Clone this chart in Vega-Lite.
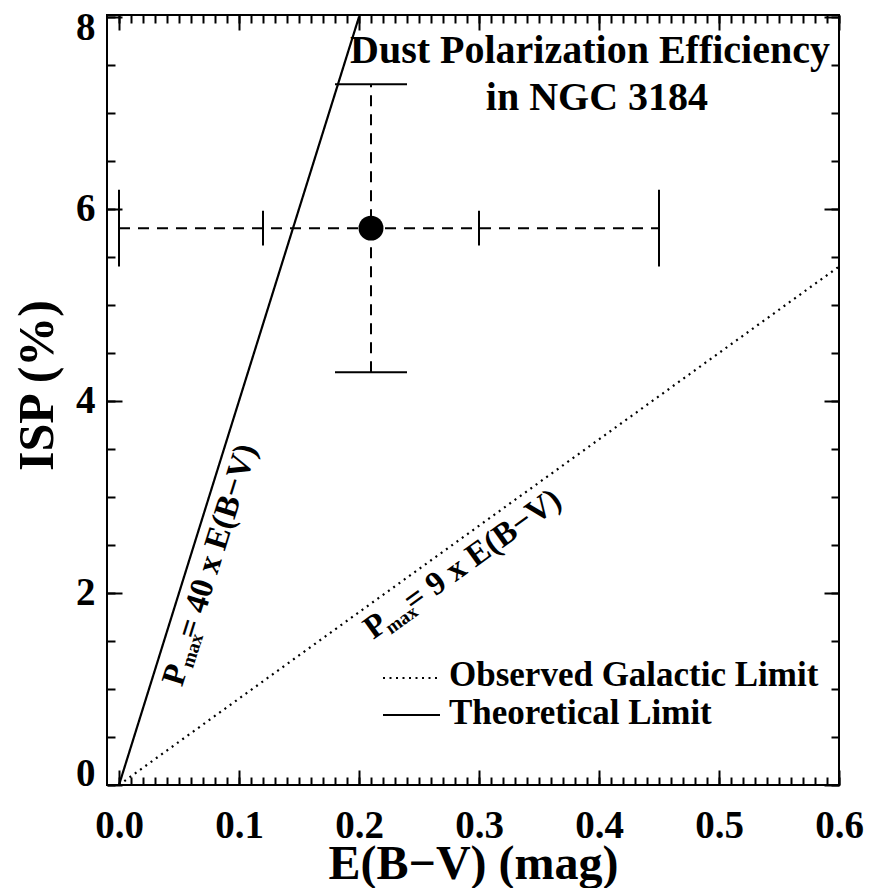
{
  "$schema": "https://vega.github.io/schema/vega-lite/v6.json",
  "width": 732,
  "height": 770,
  "autosize": {"type": "none"},
  "padding": {"left": 107, "top": 15, "right": 32, "bottom": 103},
  "background": "white",
  "config": {
    "view": {"stroke": "black", "strokeWidth": 2},
    "axis": {
      "labelFont": "Liberation Serif", "labelFontWeight": "bold", "labelColor": "black",
      "titleFont": "Liberation Serif", "titleFontWeight": "bold", "titleColor": "black",
      "grid": false, "domain": false, "tickColor": "black", "tickWidth": 2
    }
  },
  "datasets": {
    "limits": [
      {"series": "Observed Galactic Limit", "ebv": 0, "isp": 0},
      {"series": "Observed Galactic Limit", "ebv": 0.6, "isp": 5.4},
      {"series": "Theoretical Limit", "ebv": 0, "isp": 0},
      {"series": "Theoretical Limit", "ebv": 0.2, "isp": 8}
    ],
    "obs": [
      {"ebv": 0.21, "isp": 5.8, "ebv_lo": 0.0, "ebv_hi": 0.45, "isp_lo": 4.3, "isp_hi": 7.3}
    ],
    "vcaps": [
      {"ebv": 0.0, "lo": 5.4, "hi": 6.2},
      {"ebv": 0.12, "lo": 5.62, "hi": 5.98},
      {"ebv": 0.30, "lo": 5.62, "hi": 5.98},
      {"ebv": 0.45, "lo": 5.4, "hi": 6.2}
    ],
    "hcaps": [
      {"isp": 7.3, "lo": 0.18, "hi": 0.24},
      {"isp": 4.3, "lo": 0.18, "hi": 0.24}
    ]
  },
  "resolve": {"axis": {"x": "independent", "y": "independent"}},
  "layer": [
    {
      "data": {"name": "limits"},
      "mark": {"type": "line", "color": "black", "strokeWidth": 2.2},
      "encoding": {
        "x": {
          "field": "ebv", "type": "quantitative",
          "scale": {"domain": [-0.01, 0.6], "nice": false, "zero": false},
          "axis": {
            "orient": "bottom", "values": [0, 0.1, 0.2, 0.3, 0.4, 0.5, 0.6], "format": ".1f",
            "ticks": false, "labelFontSize": 39, "labelPadding": 52, "labelBaseline": "alphabetic",
            "labelFlush": false, "labelOverlap": false,
            "title": "E(B−V) (mag)", "titleFontSize": 48, "titleBaseline": "alphabetic", "titleY": 93
          }
        },
        "y": {
          "field": "isp", "type": "quantitative",
          "scale": {"domain": [0, 8.02], "nice": false, "zero": false},
          "axis": {
            "orient": "left", "values": [0, 2, 4, 6, 8], "format": "d",
            "ticks": false, "labelFontSize": 39, "labelPadding": 12,
            "labelFlush": 5, "labelFlushOffset": 8, "labelOverlap": false,
            "title": "ISP (%)", "titleFontSize": 50, "titleBaseline": "alphabetic",
            "titleX": -55, "titleY": 370, "titleAngle": 270
          }
        },
        "strokeDash": {
          "field": "series", "type": "nominal",
          "scale": {"domain": ["Observed Galactic Limit", "Theoretical Limit"], "range": [[2, 4.5], [1, 0]]},
          "legend": null
        }
      }
    },
    {
      "data": {"name": "obs"},
      "mark": {"type": "rule", "color": "black", "strokeWidth": 2, "strokeDash": [11, 8]},
      "encoding": {
        "x": {"field": "ebv_lo", "type": "quantitative",
          "axis": {"orient": "bottom", "values": [0, 0.1, 0.2, 0.3, 0.4, 0.5, 0.6], "labels": false, "tickSize": -15, "title": null}},
        "x2": {"field": "ebv_hi"},
        "y": {"field": "isp", "type": "quantitative",
          "axis": {"orient": "left", "values": [0, 2, 4, 6, 8], "labels": false, "tickSize": -15, "title": null}}
      }
    },
    {
      "data": {"name": "obs"},
      "mark": {"type": "rule", "color": "black", "strokeWidth": 2, "strokeDash": [11, 8]},
      "encoding": {
        "x": {"field": "ebv", "type": "quantitative",
          "axis": {"orient": "bottom", "values": [0,0.01,0.02,0.03,0.04,0.05,0.06,0.07,0.08,0.09,0.1,0.11,0.12,0.13,0.14,0.15,0.16,0.17,0.18,0.19,0.2,0.21,0.22,0.23,0.24,0.25,0.26,0.27,0.28,0.29,0.3,0.31,0.32,0.33,0.34,0.35,0.36,0.37,0.38,0.39,0.4,0.41,0.42,0.43,0.44,0.45,0.46,0.47,0.48,0.49,0.5,0.51,0.52,0.53,0.54,0.55,0.56,0.57,0.58,0.59,0.6], "labels": false, "tickSize": -8, "title": null}},
        "y": {"field": "isp_lo", "type": "quantitative",
          "axis": {"orient": "left", "values": [0,0.5,1,1.5,2,2.5,3,3.5,4,4.5,5,5.5,6,6.5,7,7.5,8], "labels": false, "tickSize": -8, "title": null}},
        "y2": {"field": "isp_hi"}
      }
    },
    {
      "data": {"name": "vcaps"},
      "mark": {"type": "rule", "color": "black", "strokeWidth": 2},
      "encoding": {
        "x": {"field": "ebv", "type": "quantitative",
          "axis": {"orient": "top", "values": [0, 0.1, 0.2, 0.3, 0.4, 0.5, 0.6], "labels": false, "tickSize": -15, "title": null}},
        "y": {"field": "lo", "type": "quantitative",
          "axis": {"orient": "right", "values": [0, 2, 4, 6, 8], "labels": false, "tickSize": -15, "title": null}},
        "y2": {"field": "hi"}
      }
    },
    {
      "data": {"name": "hcaps"},
      "mark": {"type": "rule", "color": "black", "strokeWidth": 2},
      "encoding": {
        "x": {"field": "lo", "type": "quantitative",
          "axis": {"orient": "top", "values": [0,0.01,0.02,0.03,0.04,0.05,0.06,0.07,0.08,0.09,0.1,0.11,0.12,0.13,0.14,0.15,0.16,0.17,0.18,0.19,0.2,0.21,0.22,0.23,0.24,0.25,0.26,0.27,0.28,0.29,0.3,0.31,0.32,0.33,0.34,0.35,0.36,0.37,0.38,0.39,0.4,0.41,0.42,0.43,0.44,0.45,0.46,0.47,0.48,0.49,0.5,0.51,0.52,0.53,0.54,0.55,0.56,0.57,0.58,0.59,0.6], "labels": false, "tickSize": -8, "title": null}},
        "x2": {"field": "hi"},
        "y": {"field": "isp", "type": "quantitative",
          "axis": {"orient": "right", "values": [0,0.5,1,1.5,2,2.5,3,3.5,4,4.5,5,5.5,6,6.5,7,7.5,8], "labels": false, "tickSize": -8, "title": null}}
      }
    },
    {
      "data": {"name": "obs"},
      "mark": {"type": "circle", "color": "black", "opacity": 1, "size": 620},
      "encoding": {
        "x": {"field": "ebv", "type": "quantitative", "axis": null},
        "y": {"field": "isp", "type": "quantitative", "axis": null}
      }
    },
    {
      "data": {"values": [{}]},
      "mark": {"type": "text", "text": "Dust Polarization Efficiency", "font": "Liberation Serif", "fontWeight": "bold", "fontSize": 40, "align": "center", "baseline": "alphabetic", "color": "black"},
      "encoding": {"x": {"datum": 0.3925, "type": "quantitative", "axis": null}, "y": {"datum": 7.52, "type": "quantitative", "axis": null}}
    },
    {
      "data": {"values": [{}]},
      "mark": {"type": "text", "text": "in NGC 3184", "font": "Liberation Serif", "fontWeight": "bold", "fontSize": 40, "align": "center", "baseline": "alphabetic", "color": "black"},
      "encoding": {"x": {"datum": 0.3983, "type": "quantitative", "axis": null}, "y": {"datum": 7.03, "type": "quantitative", "axis": null}}
    },
    {
      "data": {"values": [{}]},
      "mark": {"type": "text", "text": "P", "font": "Liberation Serif", "fontWeight": "bold", "fontSize": 33, "align": "center", "baseline": "middle", "angle": -72.65, "color": "black"},
      "encoding": {"x": {"datum": 0.047, "type": "quantitative", "axis": null}, "y": {"datum": 1.147, "type": "quantitative", "axis": null}}
    },
    {
      "data": {"values": [{}]},
      "mark": {"type": "text", "text": "max", "font": "Liberation Serif", "fontWeight": "bold", "fontSize": 19, "align": "center", "baseline": "middle", "angle": -72.65, "color": "black"},
      "encoding": {"x": {"datum": 0.0611, "type": "quantitative", "axis": null}, "y": {"datum": 1.399, "type": "quantitative", "axis": null}}
    },
    {
      "data": {"values": [{}]},
      "mark": {"type": "text", "text": "= 40 x E(B−V)", "font": "Liberation Serif", "fontWeight": "bold", "fontSize": 33, "align": "center", "baseline": "middle", "angle": -72.65, "color": "black"},
      "encoding": {"x": {"datum": 0.0818, "type": "quantitative", "axis": null}, "y": {"datum": 2.539, "type": "quantitative", "axis": null}}
    },
    {
      "data": {"values": [{}]},
      "mark": {"type": "text", "text": "P", "font": "Liberation Serif", "fontWeight": "bold", "fontSize": 33, "align": "center", "baseline": "middle", "angle": -35.75, "color": "black"},
      "encoding": {"x": {"datum": 0.2138, "type": "quantitative", "axis": null}, "y": {"datum": 1.655, "type": "quantitative", "axis": null}}
    },
    {
      "data": {"values": [{}]},
      "mark": {"type": "text", "text": "max", "font": "Liberation Serif", "fontWeight": "bold", "fontSize": 19, "align": "center", "baseline": "middle", "angle": -35.75, "color": "black"},
      "encoding": {"x": {"datum": 0.2355, "type": "quantitative", "axis": null}, "y": {"datum": 1.722, "type": "quantitative", "axis": null}}
    },
    {
      "data": {"values": [{}]},
      "mark": {"type": "text", "text": "= 9 x E(B−V)", "font": "Liberation Serif", "fontWeight": "bold", "fontSize": 33, "align": "center", "baseline": "middle", "angle": -35.75, "color": "black"},
      "encoding": {"x": {"datum": 0.3029, "type": "quantitative", "axis": null}, "y": {"datum": 2.444, "type": "quantitative", "axis": null}}
    },
    {
      "data": {"values": [{}]},
      "mark": {"type": "rule", "color": "black", "strokeWidth": 2, "strokeDash": [2, 4.5]},
      "encoding": {"x": {"datum": 0.22, "type": "quantitative", "axis": null}, "x2": {"datum": 0.2658}, "y": {"datum": 1.1145, "type": "quantitative", "axis": null}}
    },
    {
      "data": {"values": [{}]},
      "mark": {"type": "rule", "color": "black", "strokeWidth": 2.2},
      "encoding": {"x": {"datum": 0.22, "type": "quantitative", "axis": null}, "x2": {"datum": 0.2675}, "y": {"datum": 0.729, "type": "quantitative", "axis": null}}
    },
    {
      "data": {"values": [{}]},
      "mark": {"type": "text", "text": "Observed Galactic Limit", "font": "Liberation Serif", "fontWeight": "bold", "fontSize": 35, "align": "left", "baseline": "alphabetic", "color": "black"},
      "encoding": {"x": {"datum": 0.275, "type": "quantitative", "axis": null}, "y": {"datum": 1.031, "type": "quantitative", "axis": null}}
    },
    {
      "data": {"values": [{}]},
      "mark": {"type": "text", "text": "Theoretical Limit", "font": "Liberation Serif", "fontWeight": "bold", "fontSize": 35, "align": "left", "baseline": "alphabetic", "color": "black"},
      "encoding": {"x": {"datum": 0.275, "type": "quantitative", "axis": null}, "y": {"datum": 0.635, "type": "quantitative", "axis": null}}
    }
  ]
}
